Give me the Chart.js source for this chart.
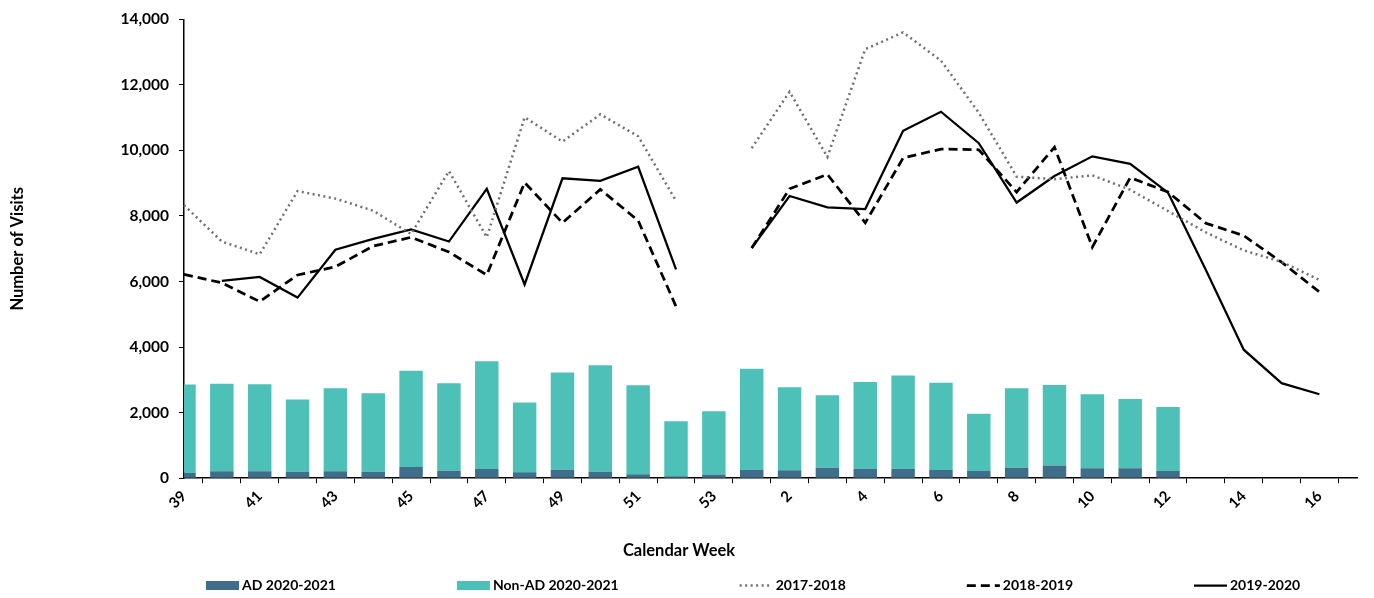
<!DOCTYPE html>
<html>
<head>
<meta charset="utf-8">
<script src="https://cdn.jsdelivr.net/npm/chart.js@4.4.0/dist/chart.umd.min.js"></script>
<style>
  html, body { margin: 0; padding: 0; background: #fff; }
  #wrap { width: 1374px; height: 598px; position: relative; }
</style>
</head>
<body>
<div id="wrap"><canvas id="visits"></canvas></div>
<script>
// calendar weeks, 39..53 then 1..16 (last slot is the empty end of the axis)
const weeks = ['39','40','41','42','43','44','45','46','47','48','49','50','51','52','53',
  '1','2','3','4','5','6','7','8','9','10','11','12','13','14','15','16',''];

const adVisits = [170,210,210,200,210,200,340,230,280,180,260,200,120,60,110,
  260,240,320,290,290,250,220,320,390,300,300,220];
const nonAdVisits = [2690,2675,2655,2200,2535,2390,2935,2665,3290,2130,2965,3245,2715,1675,1935,
  3080,2535,2210,2645,2845,2665,1745,2425,2455,2260,2120,1950];

const season1718 = [8330,7220,6830,8760,8530,8160,7450,9370,7350,11010,10270,11100,10430,8460,null,
  10070,11790,9800,13090,13600,12740,11150,9200,9120,9240,8800,8150,7500,6950,6600,6050];
const season1819 = [6220,5960,5390,6200,6450,7080,7350,6900,6200,9020,7790,8810,7860,5240,null,
  7020,8830,9270,7790,9770,10040,10020,8730,10100,7050,9170,8730,7780,7400,6590,5680];
const season1920 = [null,6020,6140,5510,6970,7300,7590,7220,8830,5910,9150,9070,9500,6370,null,
  7020,8610,8260,8210,10600,11180,10220,8410,9220,9820,9590,8710,6350,3920,2900,2560];

const yTicks = { min: 0, max: 14000, step: 2000 };

const FONT = 'Lato';

// legend spread along the bottom, like the original
const bottomLegend = {
  id: 'bottomLegend',
  afterDraw(chart) {
    const ctx = chart.ctx;
    const y = 585.5;
    let x = 206;
    ctx.save();
    ctx.font = 'bold 14px ' + FONT;
    ctx.textBaseline = 'middle';
    chart.data.datasets.forEach(ds => {
      if (ds.type === 'bar') {
        ctx.fillStyle = ds.backgroundColor;
        ctx.fillRect(x, y - 4.5, 33, 9);
      } else {
        ctx.strokeStyle = ds.borderColor;
        ctx.lineWidth = ds.borderWidth;
        ctx.setLineDash(ds.borderDash || []);
        ctx.beginPath();
        ctx.moveTo(x, y);
        ctx.lineTo(x + 33, y);
        ctx.stroke();
        ctx.setLineDash([]);
      }
      ctx.fillStyle = '#000';
      ctx.fillText(ds.label, x + 36, y);
      x += 36 + ctx.measureText(ds.label).width + 121;
    });
    ctx.restore();
  }
};

new Chart(document.getElementById('visits'), {
  data: {
    labels: weeks,
    datasets: [
      { type: 'bar', label: 'AD 2020-2021', data: adVisits, backgroundColor: '#3E6E8A',
        stack: 'bars', order: 1, barPercentage: 0.62, categoryPercentage: 1 },
      { type: 'bar', label: 'Non-AD 2020-2021', data: nonAdVisits, backgroundColor: '#4DC1B8',
        stack: 'bars', order: 1, barPercentage: 0.62, categoryPercentage: 1 },
      { type: 'line', label: '2017-2018', data: season1718, borderColor: '#707070', borderWidth: 2.5,
        borderDash: [2, 3.5], pointRadius: 0, stack: 's1', order: 0, tension: 0 },
      { type: 'line', label: '2018-2019', data: season1819, borderColor: '#000', borderWidth: 2.75,
        borderDash: [9, 5], pointRadius: 0, stack: 's2', order: 0, tension: 0 },
      { type: 'line', label: '2019-2020', data: season1920, borderColor: '#000', borderWidth: 2.25,
        pointRadius: 0, stack: 's3', order: 0, tension: 0 }
    ]
  },
  options: {
    responsive: true,
    maintainAspectRatio: false,
    animation: false,
    layout: { padding: { top: 15, right: 16, bottom: 28, left: 0 } },
    plugins: {
      legend: { display: false },
      tooltip: { enabled: false },
      title: {
        display: true, position: 'bottom', text: 'Calendar Week', color: '#000', weight: 500,
        font: { family: FONT, weight: 'bold', size: 16.5 }, padding: { top: 13, bottom: 9 }
      }
    },
    scales: {
      x: {
        stacked: true,
        offset: false,
        grid: { drawOnChartArea: false, drawTicks: true, tickLength: 5, color: '#000' },
        border: { color: '#000', width: 1.5 },
        ticks: {
          autoSkip: false, minRotation: 45, maxRotation: 45, padding: 4, color: '#000',
          font: { family: FONT, weight: 'bold', size: 15 },
          callback: (v, i) => (i % 2 === 0 ? weeks[i] : '')
        },
        afterFit: s => { s.height = 50; }
      },
      y: {
        stacked: true,
        min: yTicks.min, max: yTicks.max,
        grid: { drawOnChartArea: false, drawTicks: true, tickLength: 5, color: '#000' },
        border: { color: '#000', width: 1.5 },
        ticks: { stepSize: yTicks.step, padding: 10, color: '#000',
          font: { family: FONT, weight: 'bold', size: 15.5 } },
        title: { display: true, text: 'Number of Visits', color: '#000',
          font: { family: FONT, weight: 'bold', size: 16.5 }, padding: { top: 8, bottom: 0 } },
        afterFit: s => { s.width = 184; }
      }
    }
  },
  plugins: [bottomLegend]
});
</script>
</body>
</html>
